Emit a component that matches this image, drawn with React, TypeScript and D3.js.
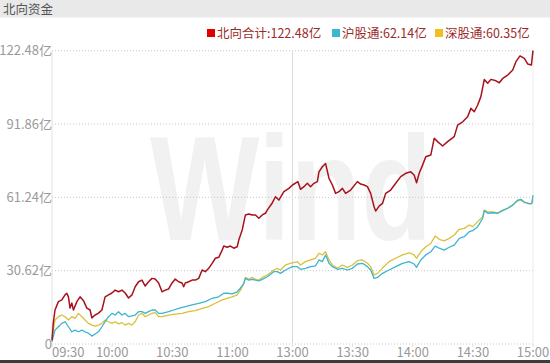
import React from "react";
import * as d3 from "d3";

const W = 550;
const H = 363;

const title = "北向资金";
const seriesNames = ["北向合计", "沪股通", "深股通"];
const seriesFinal = ["122.48亿", "62.14亿", "60.35亿"];

const timeTickMinutes = [0, 30, 60, 90, 120, 150, 180, 210, 240];
const timeTickLabels = ["09:30", "10:00", "10:30", "11:00", "13:00", "13:30", "14:00", "14:30", "15:00"];
const valueTicks = [0, 30.62, 61.24, 91.86, 122.48];
const valueTickLabels = ["0", "30.62亿", "61.24亿", "91.86亿", "122.48亿"];

// 北向合计 (trading minutes since 09:30, value in 亿)
const northMin = [0, 0.65, 1.5, 3.2, 4.9, 6.5, 7.4, 8.2, 9, 9.9, 10.7, 12.4, 14, 15.7, 17.4, 19, 19.9, 21.5, 23.2, 24.9, 26.5, 28.2, 29.9, 31.5, 33.2, 34.9, 36.5, 38.2, 39.9, 41.5, 43.2, 44.9, 46.5, 48.2, 49.9, 51.5, 53.2, 54.9, 56.5, 58.2, 59.9, 61.5, 63.2, 64.9, 65.7, 66.5, 68.2, 69.9, 71.5, 73.2, 74.9, 76.5, 78.2, 79.9, 81.5, 83.2, 84.9, 85.7, 87.4, 89, 90.7, 92.4, 93.2, 94.9, 96.5, 98.2, 99.9, 101.5, 103.2, 104.9, 106.5, 107.4, 109.9, 111.5, 113.2, 115.7, 118.2, 120, 122.7, 124, 125.7, 127.4, 129, 130.7, 132.4, 133.2, 134.9, 136.5, 138.2, 139.9, 141.5, 143.2, 144.9, 146.5, 149, 152.4, 154, 155.7, 157.4, 159, 160.7, 161.5, 163.2, 164.9, 166.5, 169, 171.5, 174, 176.5, 179, 180.7, 181.9, 183.2, 184.9, 186.5, 189, 190.7, 192.4, 194.9, 197.4, 200.7, 202.4, 204.9, 207.4, 209, 210.7, 212.4, 214, 215.7, 217.4, 219, 221.5, 223.2, 224.9, 227.4, 229.9, 231.5, 233.5, 235.7, 237.4, 239.2, 240];
const northVal = [1.5, 8.8, 14.2, 17.7, 18.4, 20.5, 21.2, 19.7, 15.0, 17.1, 14.2, 17.7, 19.7, 18.1, 15.0, 14.2, 10.9, 12.1, 12.9, 14.2, 19.7, 20.5, 21.3, 22.5, 21.8, 22.5, 21.3, 19.2, 20.5, 23.9, 26.0, 26.7, 24.2, 26.0, 27.4, 27.1, 25.5, 21.8, 22.5, 23.0, 25.5, 27.1, 26.0, 25.5, 23.9, 25.5, 26.0, 26.7, 26.7, 27.4, 30.9, 30.2, 31.6, 33.7, 35.8, 36.2, 39.2, 40.9, 40.4, 40.9, 40.0, 40.6, 43.4, 47.6, 53.9, 54.3, 53.9, 53.9, 52.5, 53.9, 54.6, 55.9, 58.9, 61.5, 60.1, 63.6, 65.0, 66.4, 67.8, 64.6, 65.7, 67.1, 65.7, 67.1, 67.8, 71.9, 74.0, 75.4, 69.2, 66.4, 62.9, 63.6, 65.0, 62.9, 64.3, 67.8, 66.8, 66.4, 65.7, 62.9, 57.3, 55.5, 57.6, 58.7, 62.9, 64.3, 67.1, 69.9, 71.3, 71.9, 70.6, 67.3, 71.3, 74.7, 78.2, 78.9, 85.9, 84.5, 82.7, 84.5, 86.6, 91.4, 92.8, 94.9, 98.4, 97.0, 99.8, 103.3, 110.5, 108.9, 110.5, 109.9, 109.1, 110.9, 112.3, 114.4, 117.9, 120.3, 119.3, 116.9, 116.5, 122.48];

// 沪股通
const shMin = [0, 1.5, 3.2, 4.9, 6.5, 8.2, 9.9, 11.5, 13.2, 14.9, 16.5, 18.2, 19.9, 21.5, 23.2, 24.9, 26.5, 28.2, 29.9, 31.5, 33.2, 34.9, 36.5, 38.2, 39.9, 41.5, 43.2, 44.9, 46.5, 48.2, 49.9, 51.5, 53.2, 54.9, 58.2, 60.7, 63.2, 66.5, 69.9, 73.2, 76.5, 79.9, 83.2, 85.7, 87.4, 89.9, 92.4, 94, 95.7, 96.5, 98.2, 99.9, 101.5, 103.2, 104.9, 107.4, 110.7, 112.4, 114, 116.5, 119.9, 122.4, 124, 126.5, 129, 131.5, 133.2, 134.9, 136.5, 138.2, 139.9, 142.4, 144.9, 147.4, 149.9, 152.4, 154.9, 157.4, 159, 160.7, 162.4, 164.9, 168.2, 171.5, 174.9, 178.2, 180.7, 181.9, 184, 186.5, 189, 191.2, 193.2, 195.7, 198.2, 200.7, 203.2, 205.7, 208.2, 209.9, 212.4, 214.9, 215.7, 217.4, 219.9, 222.4, 224.9, 227.4, 229.9, 232.4, 234, 235.7, 238.2, 239.4, 240];
const shVal = [1.0, 5.8, 7.2, 8.6, 9.3, 7.2, 5.1, 5.8, 5.1, 5.8, 5.1, 4.5, 3.3, 4.2, 5.1, 7.2, 9.3, 11.4, 12.8, 12.1, 13.5, 12.1, 12.8, 11.4, 11.7, 12.1, 13.5, 13.5, 12.8, 13.5, 14.2, 14.2, 12.8, 12.8, 13.5, 14.2, 14.9, 15.6, 16.3, 17.0, 17.7, 19.1, 19.7, 21.2, 21.2, 20.9, 21.8, 23.3, 25.3, 27.4, 26.7, 27.0, 26.7, 26.4, 27.0, 28.1, 30.2, 30.2, 29.5, 30.9, 32.3, 32.3, 31.2, 31.6, 32.3, 32.6, 35.1, 34.4, 37.2, 33.7, 32.3, 31.2, 31.6, 30.9, 31.6, 33.4, 33.7, 32.3, 30.9, 27.4, 27.8, 29.5, 30.9, 32.3, 33.7, 34.4, 33.4, 32.0, 35.1, 37.2, 38.5, 40.9, 40.0, 39.2, 40.4, 41.3, 44.1, 44.8, 46.9, 47.3, 49.0, 52.5, 55.7, 54.6, 54.8, 54.6, 55.7, 56.7, 58.0, 60.1, 60.4, 59.3, 58.5, 58.7, 62.14];

// 深股通
const szMin = [0, 1.5, 3.2, 4.9, 6.5, 8.2, 9.9, 11.5, 13.2, 14.9, 16.5, 18.2, 19.9, 21.5, 23.2, 24.9, 26.5, 28.2, 29.9, 31.5, 33.2, 34.9, 36.5, 38.2, 39.9, 41.5, 43.2, 44.9, 46.5, 48.2, 49.9, 51.5, 53.2, 54.9, 58.2, 61.5, 64.9, 68.2, 71.5, 74.9, 78.2, 81.5, 84.9, 87.4, 89.9, 92.4, 94, 95.7, 96.5, 98.2, 99.9, 101.5, 103.2, 104.9, 107.4, 110.7, 112.4, 114, 116.5, 119.9, 122.4, 124, 126.5, 129, 131.5, 133.2, 134.9, 136.5, 138.2, 139.9, 142.4, 144.9, 147.4, 149.9, 152.4, 154.9, 157.4, 159, 160.7, 162.4, 164.9, 168.2, 171.5, 174.9, 178.2, 180.7, 181.9, 184, 186.5, 189, 191.2, 193.2, 195.7, 198.2, 200.7, 203.2, 205.7, 208.2, 209.9, 212.4, 214.9, 215.7, 217.4, 219.9, 222.4, 224.9, 227.4, 229.9, 232.4, 234, 235.7, 238.2, 239.4, 240];
const szVal = [2.0, 10.0, 11.4, 12.1, 11.4, 10.0, 11.4, 10.7, 12.8, 11.4, 10.0, 8.6, 7.9, 7.5, 7.9, 8.6, 10.0, 9.3, 8.6, 9.3, 8.4, 8.9, 7.9, 8.6, 7.9, 9.3, 12.1, 12.8, 11.4, 12.1, 12.8, 13.1, 11.4, 11.4, 12.1, 12.5, 12.8, 13.5, 13.9, 14.9, 15.6, 17.0, 18.4, 19.1, 19.7, 20.5, 22.5, 25.3, 27.8, 27.0, 27.8, 27.0, 26.7, 27.8, 28.8, 30.9, 31.6, 30.9, 33.0, 33.9, 34.4, 33.0, 34.4, 35.1, 35.8, 37.9, 37.2, 38.5, 35.1, 33.0, 31.6, 33.0, 32.0, 33.0, 34.8, 35.1, 33.7, 32.3, 28.8, 29.5, 31.7, 34.4, 35.8, 37.2, 38.1, 37.2, 35.8, 38.5, 40.6, 42.0, 45.1, 43.7, 43.1, 44.1, 45.5, 47.9, 48.3, 49.7, 49.0, 51.1, 53.2, 55.9, 55.2, 55.2, 54.8, 55.9, 56.7, 58.0, 59.8, 60.1, 59.0, 58.7, 58.5, 60.35];

const lineColors = ["#a8121c", "#3db5d0", "#dcc03a"];
const legendColors = ["#e00000", "#3ab8d6", "#f0c020"];

const font = "'Noto Sans CJK SC', 'Noto Sans', sans-serif";

export default function App() {
  const plotLeft = 52;
  const plotRight = 533;
  const plotTop = 50.7;
  const plotBottom = 344;

  const x = d3.scaleLinear().domain([0, 240]).range([plotLeft, plotRight]);
  const y = d3.scaleLinear().domain([0, 122.48]).range([plotBottom, plotTop]);

  const line = d3
    .line<[number, number]>()
    .x((d) => x(d[0]))
    .y((d) => y(d[1]));

  const series: [number, number][][] = [
    northMin.map((m, i) => [m, northVal[i]] as [number, number]),
    shMin.map((m, i) => [m, shVal[i]] as [number, number]),
    szMin.map((m, i) => [m, szVal[i]] as [number, number]),
  ];

  const legendX = [207, 332, 435];

  return (
    <svg
      width={W}
      height={H}
      style={{ position: "absolute", left: 0, top: 0, background: "#fff" }}
      fontFamily={font}
    >
      <rect x={0} y={0} width={W} height={17.5} fill="#e9e9e9" />
      <text x={3} y={13.5} fontSize={12.5} fill="#555">
        {title}
      </text>

      {/* watermark */}
      <text
        x={150}
        y={240}
        fontSize={148}
        fontWeight="bold"
        fill="#f1f1f1"
        textLength={282}
        lengthAdjust="spacingAndGlyphs"
        fontFamily="'Liberation Sans', Arial, sans-serif"
      >
        Wind
      </text>

      {/* grid */}
      {valueTicks.map((v, i) => (
        <line
          key={"g" + i}
          x1={plotLeft}
          x2={plotRight}
          y1={y(v)}
          y2={y(v)}
          stroke="#c8c8c8"
          strokeWidth={1}
          strokeDasharray="1,2"
        />
      ))}
      <line x1={plotLeft} x2={plotLeft} y1={plotTop} y2={plotBottom} stroke="#e2e2e2" />
      <line x1={x(120)} x2={x(120)} y1={plotTop} y2={plotBottom} stroke="#dcdcdc" />
      <line x1={plotRight} x2={plotRight} y1={plotTop} y2={plotBottom} stroke="#ececec" />
      {timeTickMinutes.map((m, i) => (
        <line key={"t" + i} x1={x(m)} x2={x(m)} y1={plotBottom} y2={plotBottom + 3} stroke="#e0e0e0" />
      ))}

      {/* y labels */}
      {valueTicks.map((v, i) => (
        <text
          key={"y" + i}
          x={plotLeft}
          y={y(v)}
          dy="0.35em"
          textAnchor="end"
          fontSize={13}
          fill="#9a9a9a"
        >
          {valueTickLabels[i]}
        </text>
      ))}

      {/* x labels */}
      {timeTickMinutes.map((m, i) => (
        <text
          key={"x" + i}
          x={x(m)}
          y={357}
          textAnchor={i === 0 ? "start" : "middle"}
          fontSize={13}
          fill="#9a9a9a"
        >
          {timeTickLabels[i]}
        </text>
      ))}

      {/* lines */}
      {[2, 1, 0].map((k) => (
        <path
          key={"l" + k}
          d={line(series[k]) || ""}
          fill="none"
          stroke={lineColors[k]}
          strokeWidth={k === 0 ? 1.5 : 1.3}
          strokeLinejoin="round"
        />
      ))}

      {/* legend */}
      {seriesNames.map((name, i) => (
        <g key={"lg" + i}>
          <rect x={legendX[i]} y={29} width={8} height={8} fill={legendColors[i]} />
          <text x={legendX[i] + 10} y={37.5} fontSize={12.5} fill="#9c2a2a">
            {name + ":" + seriesFinal[i]}
          </text>
        </g>
      ))}

      <rect x={0} y={360} width={W} height={3} fill="#3c3c3c" />
    </svg>
  );
}
